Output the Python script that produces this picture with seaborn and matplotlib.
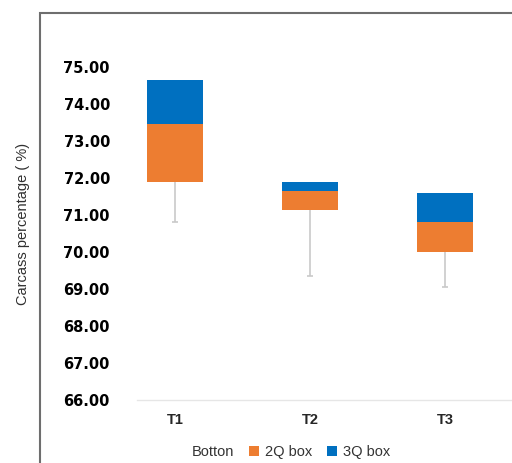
import numpy as np
import pandas as pd
import matplotlib
matplotlib.use('Agg')
import matplotlib.pyplot as plt
from matplotlib.patches import Patch, Rectangle
import seaborn as sns

# values
treatments = ['T1', 'T2', 'T3']
botton = [71.90, 71.15, 70.00]      # Q1, invisible bottom series
box_2q = [1.55, 0.50, 0.80]         # Q1 -> median
box_3q = [1.20, 0.25, 0.80]         # median -> Q3
whisker_min = [70.80, 69.35, 69.05]

ORANGE = '#ED7D31'
BLUE = '#0070C0'
GREY = '#C9C9C9'

sns.set_style('white')
plt.rcParams['font.family'] = ['Liberation Sans', 'DejaVu Sans']

df = pd.DataFrame({'trt': treatments, 'botton': botton, 'q2': box_2q, 'q3': box_3q, 'low': whisker_min})
df['median'] = df['botton'] + df['q2']
df['top'] = df['median'] + df['q3']

fig = plt.figure(figsize=(5.12, 4.63), dpi=100)
ax = fig.add_axes([137 / 512, 1 - 400 / 463, 1 - 137 / 512, (400 - 56) / 463])

# stacked bars drawn as overlapping bars from the top series down
bar_kw = dict(saturation=1, width=0.41, errorbar=None, ax=ax, linewidth=0)
sns.barplot(data=df, x='trt', y='top', color=BLUE, zorder=2, **bar_kw)
sns.barplot(data=df, x='trt', y='median', color=ORANGE, zorder=3, **bar_kw)
sns.barplot(data=df, x='trt', y='botton', color='white', zorder=4, **bar_kw)

# lower whiskers
pos = np.arange(len(treatments))
ax.vlines(pos, df['low'], df['botton'], color=GREY, lw=1.2, zorder=5)
ax.hlines(df['low'], pos - 0.02, pos + 0.02, color=GREY, lw=1.2, zorder=5)

ax.set_ylim(66, 75.3)
ax.set_xlim(-0.281, 2.497)
ax.set_yticks(np.arange(66, 76, 1))
ax.set_yticklabels(['%.2f' % v for v in np.arange(66, 76, 1)], fontsize=10.5,
                   fontweight='heavy', color='black', family='DejaVu Sans')
ax.set_xticks(pos)
ax.set_xticklabels(treatments, fontsize=10.5, fontweight='bold', color='#262626')
ax.tick_params(axis='y', length=0, pad=19.5)
ax.tick_params(axis='x', length=0, pad=9)
ax.set_xlabel('')
ax.set_ylabel('')
for s in ['top', 'right', 'left']:
    ax.spines[s].set_visible(False)
ax.spines['bottom'].set_color('#E6E6E6')
ax.spines['bottom'].set_linewidth(1)
ax.spines['bottom'].set_zorder(6)

fig.text(23 / 512, 1 - 224 / 463, 'Carcass percentage ( %)', rotation=90,
         ha='center', va='center', fontsize=10.5, color='#303030')

# outer chart-area border (cut off at right and bottom)
fig.patches.append(Rectangle((40 / 512, -0.2), 1.0, 1 - 13 / 463 + 0.2,
                             transform=fig.transFigure, fill=False,
                             edgecolor='#6E6E6E', lw=1.5))

handles = [Patch(facecolor='none', edgecolor='none'),
           Patch(facecolor=ORANGE, edgecolor='none'),
           Patch(facecolor=BLUE, edgecolor='none')]
fig.legend(handles, ['Botton', '2Q box', '3Q box'], loc='center',
           bbox_to_anchor=(283 / 512, 1 - 452 / 463), ncol=3, frameon=False,
           fontsize=10.5, handlelength=0.7, handleheight=0.7, handletextpad=0.4,
           columnspacing=1.0, labelcolor='#333333')

fig.savefig('out.png', dpi=100)
